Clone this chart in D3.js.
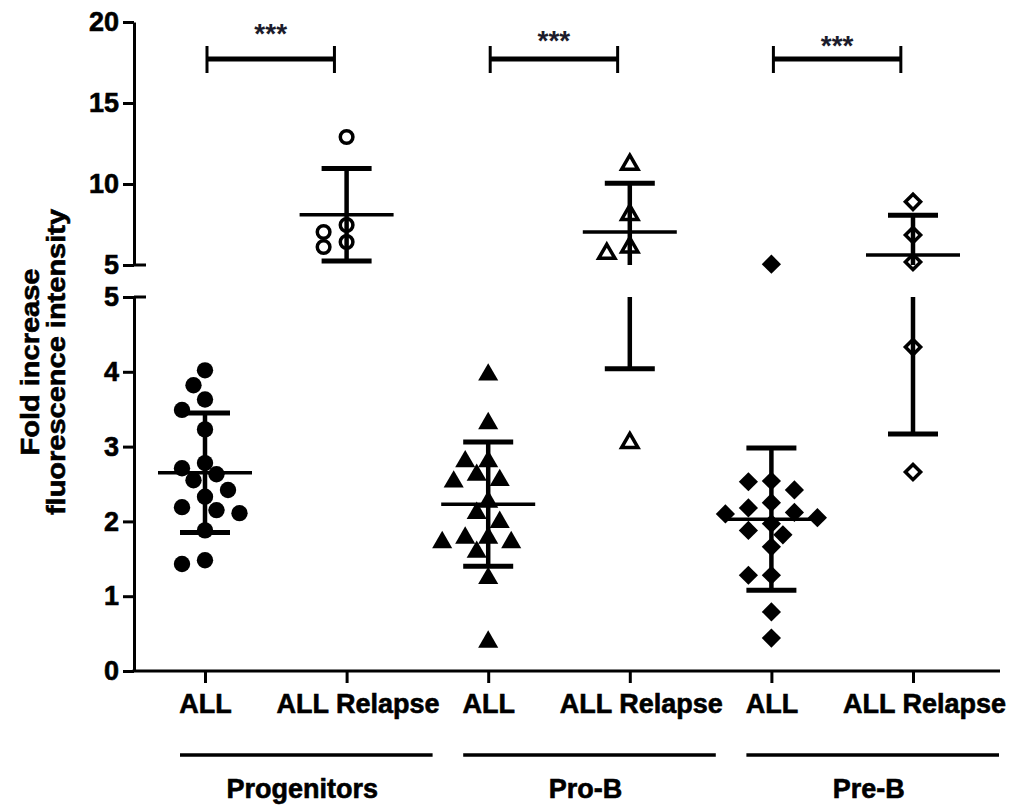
<!DOCTYPE html>
<html>
<head>
<meta charset="utf-8">
<script src="https://cdn.jsdelivr.net/npm/d3@7"></script>
<style>
  html, body { margin: 0; padding: 0; background: #fff; }
  svg { display: block; }
  text { font-family: "Liberation Sans", Arial, sans-serif; }
</style>
</head>
<body>
<svg id="chart" width="1009" height="809"></svg>
<script>
// ---- data -------------------------------------------------------------
const groups = ["Progenitors", "Pro-B", "Pre-B"];
const conditions = ["ALL", "ALL Relapse"];

const progenitorsAll = [4.02, 3.82, 3.63, 3.49, 3.23, 2.78, 2.71, 2.63, 2.55, 2.42, 2.33, 2.19, 2.15, 2.11, 1.88, 1.48, 1.43];
const progenitorsRelapse = [12.9, 7.47, 7.04, 6.42, 6.11];
const proBAll = [3.96, 3.31, 2.80, 2.80, 2.62, 2.55, 2.53, 2.26, 2.11, 1.99, 1.78, 1.78, 1.72, 1.72, 1.59, 1.24, 0.39];
const proBRelapse = [11.2, 8.1, 6.1, 5.7, 3.05];
const preBAll = [5.05, 2.54, 2.53, 2.42, 2.25, 2.18, 2.12, 2.10, 2.05, 1.97, 1.88, 1.82, 1.66, 1.28, 1.28, 0.79, 0.44];
const preBRelapse = [8.9, 6.85, 5.19, 4.33, 2.66];

// mean and SD per column, in the same column order
const columnMeans = [2.65, 8.1, 2.23, 7.04, 2.03, 5.62];
const columnSDs = [0.80, 2.85, 0.83, 3.0, 0.95, 2.45];

const lowerTicks = [0, 1, 2, 3, 4, 5];
const upperTicks = [5, 10, 15, 20];
const significance = ["***", "***", "***"];

// ---- layout -----------------------------------------------------------
const svg = d3.select("#chart");
const axisX = 134, baseY = 671;

const columns = [];
const seriesValues = [progenitorsAll, progenitorsRelapse, proBAll, proBRelapse, preBAll, preBRelapse];
groups.forEach((g, gi) => conditions.forEach((c, ci) => {
  const k = gi * 2 + ci;
  columns.push({ id: g + "|" + c, group: g, condition: c, relapse: ci === 1, shape: gi,
                 values: seriesValues[k], mean: columnMeans[k], sd: columnSDs[k] });
}));

const x = d3.scalePoint().domain(columns.map(d => d.id)).range([205, 913]);
const step = x.step();
const yLow = d3.scaleLinear().domain([0, 5]).range([baseY, 297]);
const yHigh = d3.scaleLinear().domain([5, 20]).range([265, 22]);
const yv = v => (v > 5 ? yHigh(v) : yLow(v));

// heavy bold labels
function boldText(sel, size) {
  sel.attr("font-size", size).attr("font-weight", "bold").attr("fill", "#000")
    .attr("stroke", "#000").attr("stroke-width", 0.6)
    .style("font-family", "'Liberation Sans', Arial, sans-serif");
}

// ---- y axis (two segments with a break at 5) --------------------------
function styleAxis(g) {
  g.selectAll("path, line").attr("stroke", "#000").attr("stroke-width", 3);
  g.selectAll("text").call(boldText, 27);
}
svg.append("g").attr("transform", `translate(${axisX},0)`)
  .call(d3.axisLeft(yLow).tickValues(lowerTicks).tickSize(11).tickSizeOuter(0).tickPadding(4).tickFormat(d3.format("d")))
  .call(styleAxis);
svg.append("g").attr("transform", `translate(${axisX},0)`)
  .call(d3.axisLeft(yHigh).tickValues(upperTicks).tickSize(11).tickSizeOuter(0).tickPadding(4).tickFormat(d3.format("d")))
  .call(styleAxis);
// break marks reaching into the plot at both ends of the gap
[yHigh(5), yLow(5)].forEach(yy => {
  svg.append("line").attr("x1", axisX).attr("x2", axisX + 12).attr("y1", yy).attr("y2", yy)
    .attr("stroke", "#000").attr("stroke-width", 3);
});

// ---- x axis -----------------------------------------------------------
svg.append("line").attr("x1", axisX - 1.5).attr("x2", 1000).attr("y1", baseY).attr("y2", baseY)
  .attr("stroke", "#000").attr("stroke-width", 3);
const xAxis = svg.append("g").attr("transform", `translate(0,${baseY})`)
  .call(d3.axisBottom(x).tickSize(12).tickPadding(11).tickFormat(id => id.split("|")[1]));
xAxis.select(".domain").remove();
xAxis.call(styleAxis);
xAxis.selectAll("text").call(boldText, 27)
  .attr("dx", id => (id.endsWith("Relapse") ? 11 : 0));

// group underlines and names
groups.forEach((g, gi) => {
  const xa = x(g + "|ALL"), xr = x(g + "|ALL Relapse");
  const x1 = xa - 25, x2 = xr + 86;
  svg.append("line").attr("x1", x1).attr("x2", x2).attr("y1", 755).attr("y2", 755)
    .attr("stroke", "#000").attr("stroke-width", 3.5);
  svg.append("text").attr("x", (x1 + x2) / 2 - 4).attr("y", 798).attr("text-anchor", "middle")
    .call(boldText, 27).text(g);
});

// y axis title, stretched along its length
const title = svg.append("text").attr("transform", "translate(0,362) rotate(-90) scale(1.16,1)")
  .attr("text-anchor", "middle").call(boldText, 25);
title.append("tspan").attr("x", 0).attr("y", 39).text("Fold increase");
title.append("tspan").attr("x", 0).attr("y", 65).text("fluorescence intensity");

// ---- points -----------------------------------------------------------
const symbolTypes = [d3.symbolCircle, d3.symbolTriangle, d3.symbolSquare];

// spread overlapping points sideways in fixed lanes
function swarm(values, cx, lane, minDist) {
  const placed = [];
  const order = values.map((v, i) => ({ v, i })).sort((a, b) => b.v - a.v);
  order.forEach(p => {
    const py = yv(p.v);
    for (let k = 0; k < 12; k++) {
      const off = k === 0 ? 0 : (k % 2 ? -1 : 1) * Math.ceil(k / 2) * lane;
      const px = cx + off;
      if (placed.every(q => Math.hypot(q.x - px, q.y - py) >= minDist)) {
        placed.push({ x: px, y: py, v: p.v });
        break;
      }
    }
  });
  return placed;
}

columns.forEach(col => {
  const cx = x(col.id);
  const pts = swarm(col.values, cx, 11.5, col.relapse ? 14 : 16);
  const type = symbolTypes[col.shape];
  let size;
  if (col.relapse) size = col.shape === 0 ? 125 : col.shape === 1 ? 115 : 115;
  else size = col.shape === 0 ? 210 : col.shape === 1 ? 175 : 185;
  const sym = d3.symbol().type(type).size(size);
  svg.append("g").selectAll("path").data(pts).join("path")
    .attr("d", sym)
    .attr("transform", d => `translate(${d.x},${d.y})` + (col.shape === 2 ? " rotate(45)" : ""))
    .attr("fill", col.relapse ? "none" : "#000")
    .attr("stroke", "#000")
    .attr("stroke-width", col.relapse ? 3.5 : 0);
});

// ---- mean and SD bars -------------------------------------------------
columns.forEach(col => {
  const cx = x(col.id);
  const g = svg.append("g").attr("stroke", "#000");
  const lo = col.mean - col.sd, hi = col.mean + col.sd;
  // vertical bar, split across the axis break
  if (hi > 5) {
    g.append("line").attr("x1", cx).attr("x2", cx)
      .attr("y1", yHigh(Math.max(lo, 5))).attr("y2", yHigh(hi)).attr("stroke-width", 4.5);
  }
  if (lo < 5) {
    g.append("line").attr("x1", cx).attr("x2", cx)
      .attr("y1", yLow(lo)).attr("y2", yLow(Math.min(hi, 5))).attr("stroke-width", 4.5);
  }
  [lo, hi].forEach(v => {
    g.append("line").attr("x1", cx - 25).attr("x2", cx + 25)
      .attr("y1", yv(v)).attr("y2", yv(v)).attr("stroke-width", 5);
  });
  g.append("line").attr("x1", cx - 47).attr("x2", cx + 47)
    .attr("y1", yv(col.mean)).attr("y2", yv(col.mean)).attr("stroke-width", 3.5);
});

// ---- significance brackets -------------------------------------------
const starY = [43, 50, 55];
groups.forEach((g, gi) => {
  const x1 = x(g + "|ALL") + 2, x2 = x1 + step * 0.9;
  const by = 59;
  const b = svg.append("g").attr("stroke", "#000");
  b.append("line").attr("x1", x1).attr("x2", x2).attr("y1", by).attr("y2", by).attr("stroke-width", 5);
  [x1, x2].forEach(xx => b.append("line").attr("x1", xx).attr("x2", xx)
    .attr("y1", by - 13).attr("y2", by + 14).attr("stroke-width", 3));
  svg.append("text").attr("x", (x1 + x2) / 2).attr("y", starY[gi]).attr("text-anchor", "middle")
    .attr("font-size", 28).attr("font-weight", "bold").attr("fill", "#1c1c2c").text(significance[gi]);
});
</script>
</body>
</html>
